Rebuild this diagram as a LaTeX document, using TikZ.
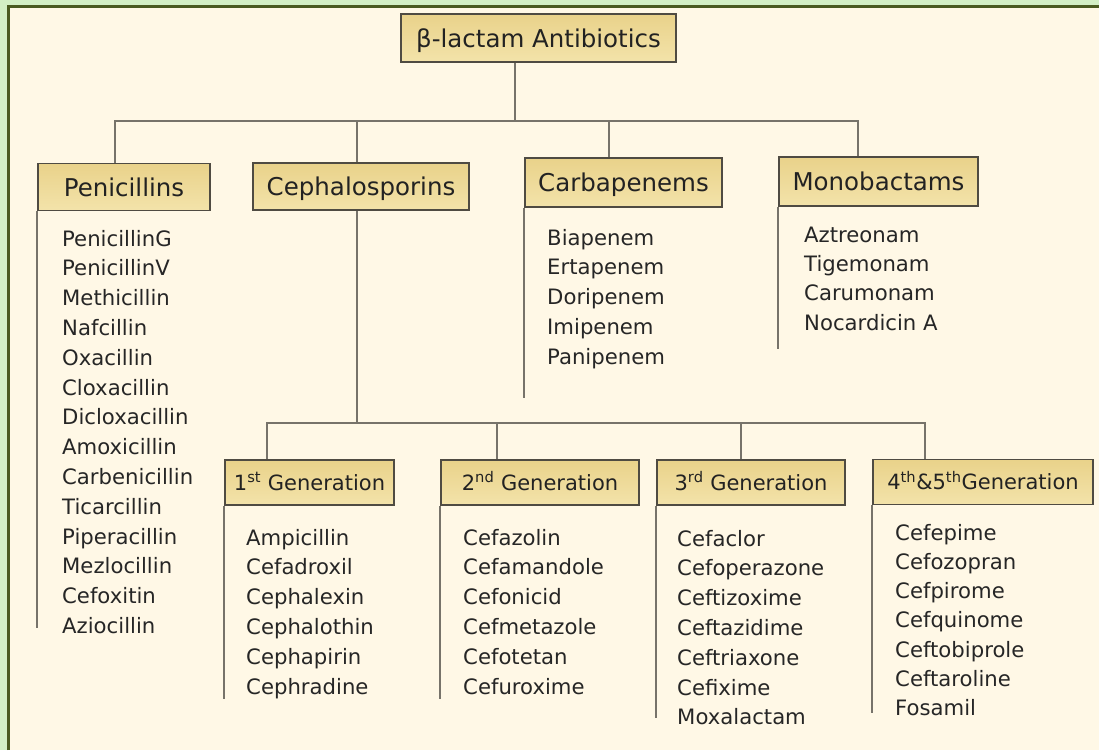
\documentclass[tikz,border=0pt]{standalone}
\usepackage{fontspec}
\setmainfont{DejaVu Sans}
\definecolor{outg}{HTML}{D3EFC5}
\definecolor{framec}{HTML}{4A5A20}
\definecolor{cream}{HTML}{FFF8E6}
\definecolor{boxtop}{HTML}{E9D28A}
\definecolor{boxbot}{HTML}{F3E3AA}
\definecolor{boxline}{HTML}{4F4B42}
\definecolor{connc}{HTML}{77736A}
\definecolor{txt}{HTML}{262626}
\definecolor{hdr}{HTML}{222222}
\begin{document}
\begin{tikzpicture}[x=1pt,y=-1pt,
  hbox/.style={draw=boxline, line width=1.6pt, top color=boxtop, bottom color=boxbot,
    inner sep=0pt, text=hdr, font=\fontsize{24.5}{28}\selectfont, text height=18pt, text depth=0pt},
  gbox/.style={hbox, font=\fontsize{21}{25}\selectfont, text height=15.3pt},
  conn/.style={draw=connc, line width=2.2pt},
  lst/.style={anchor=north west, inner sep=0pt, align=left, text=txt,
    font=\fontsize{21.2}{29.8}\selectfont},
  lstb/.style={lst, font=\fontsize{21.2}{29.3}\selectfont}]
\useasboundingbox (0,0) rectangle (1099,750);
\fill[outg] (0,0) rectangle (1099,750);
\fill[cream] (7,5) rectangle (1099,750);
\draw[framec, line width=3pt] (8.5,750) -- (8.5,6) -- (1099,6);

% header boxes
\node[hbox, minimum width=275pt, minimum height=48pt] (top) at (538.5,38) {β-lactam Antibiotics};
\node[hbox, minimum width=172pt, minimum height=47pt] (pen) at (124,187) {Penicillins};
\node[hbox, minimum width=216pt, minimum height=47pt] (ceph) at (361,186.5) {Cephalosporins};
\node[hbox, minimum width=197pt, minimum height=49pt] (carb) at (623.5,182.5) {Carbapenems};
\node[hbox, minimum width=199pt, minimum height=49pt] (mono) at (878.5,181.5) {Monobactams};

\node[gbox, minimum width=169pt, minimum height=45pt] (g1) at (309.5,482.5) {1\textsuperscript{st} Generation};
\node[gbox, minimum width=198pt, minimum height=45pt] (g2) at (540,482.5) {2\textsuperscript{nd} Generation};
\node[gbox, minimum width=188pt, minimum height=45pt] (g3) at (751,482.5) {3\textsuperscript{rd} Generation};
\node[gbox, minimum width=220pt, minimum height=45pt] (g4) at (983,482) {4\textsuperscript{th}\&5\textsuperscript{th}Generation};

% connectors, level 1
\coordinate (b0) at (515,121);
\coordinate (bp) at (115,121);
\coordinate (bc) at (357,121);
\coordinate (bk) at (609,121);
\coordinate (bm) at (858,121);
\draw[conn] (top.south -| b0) -- (b0);
\draw[conn] (pen.north -| bp) -- (bp) -- (bm) -- (mono.north -| bm);
\draw[conn] (bc) -- (ceph.north -| bc);
\draw[conn] (bk) -- (carb.north -| bk);

% connectors, level 2
\coordinate (c0) at (357,423);
\coordinate (c1) at (267,423);
\coordinate (c2) at (497,423);
\coordinate (c3) at (741,423);
\coordinate (c4) at (925,423);
\draw[conn] (ceph.south -| c0) -- (c0);
\draw[conn] (g1.north -| c1) -- (c1) -- (c4) -- (g4.north -| c4);
\draw[conn] (c2) -- (g2.north -| c2);
\draw[conn] (c3) -- (g3.north -| c3);

% list side lines
\draw[conn] (pen.south west) -- ++(0,417);
\draw[conn] (carb.south west) -- ++(0,190);
\draw[conn] (mono.south west) -- ++(0,142);
\draw[conn] (g1.south west) -- ++(0,193);
\draw[conn] (g2.south west) -- ++(0,193);
\draw[conn] (g3.south west) -- ++(0,212);
\draw[conn] (g4.south west) -- ++(0,208);

% lists
\node[lst] (lpen) at (62,229.7) {PenicillinG\\PenicillinV\\Methicillin\\Nafcillin\\Oxacillin\\Cloxacillin\\Dicloxacillin\\Amoxicillin\\Carbenicillin\\Ticarcillin\\Piperacillin\\Mezlocillin\\Cefoxitin\\Aziocillin};
\node[lst] (lcarb) at (547,228.7) {Biapenem\\Ertapenem\\Doripenem\\Imipenem\\Panipenem};
\node[lstb] (lmono) at (804,226.7) {Aztreonam\\Tigemonam\\Carumonam\\Nocardicin A};
\node[lst] (lg1) at (246,528.7) {Ampicillin\\Cefadroxil\\Cephalexin\\Cephalothin\\Cephapirin\\Cephradine};
\node[lst] (lg2) at (463,528.7) {Cefazolin\\Cefamandole\\Cefonicid\\Cefmetazole\\Cefotetan\\Cefuroxime};
\node[lst] (lg3) at (677,529.7) {Cefaclor\\Cefoperazone\\Ceftizoxime\\Ceftazidime\\Ceftriaxone\\Cefixime\\Moxalactam};
\node[lstb] (lg4) at (895,523.7) {Cefepime\\Cefozopran\\Cefpirome\\Cefquinome\\Ceftobiprole\\Ceftaroline\\Fosamil};
\end{tikzpicture}
\end{document}
